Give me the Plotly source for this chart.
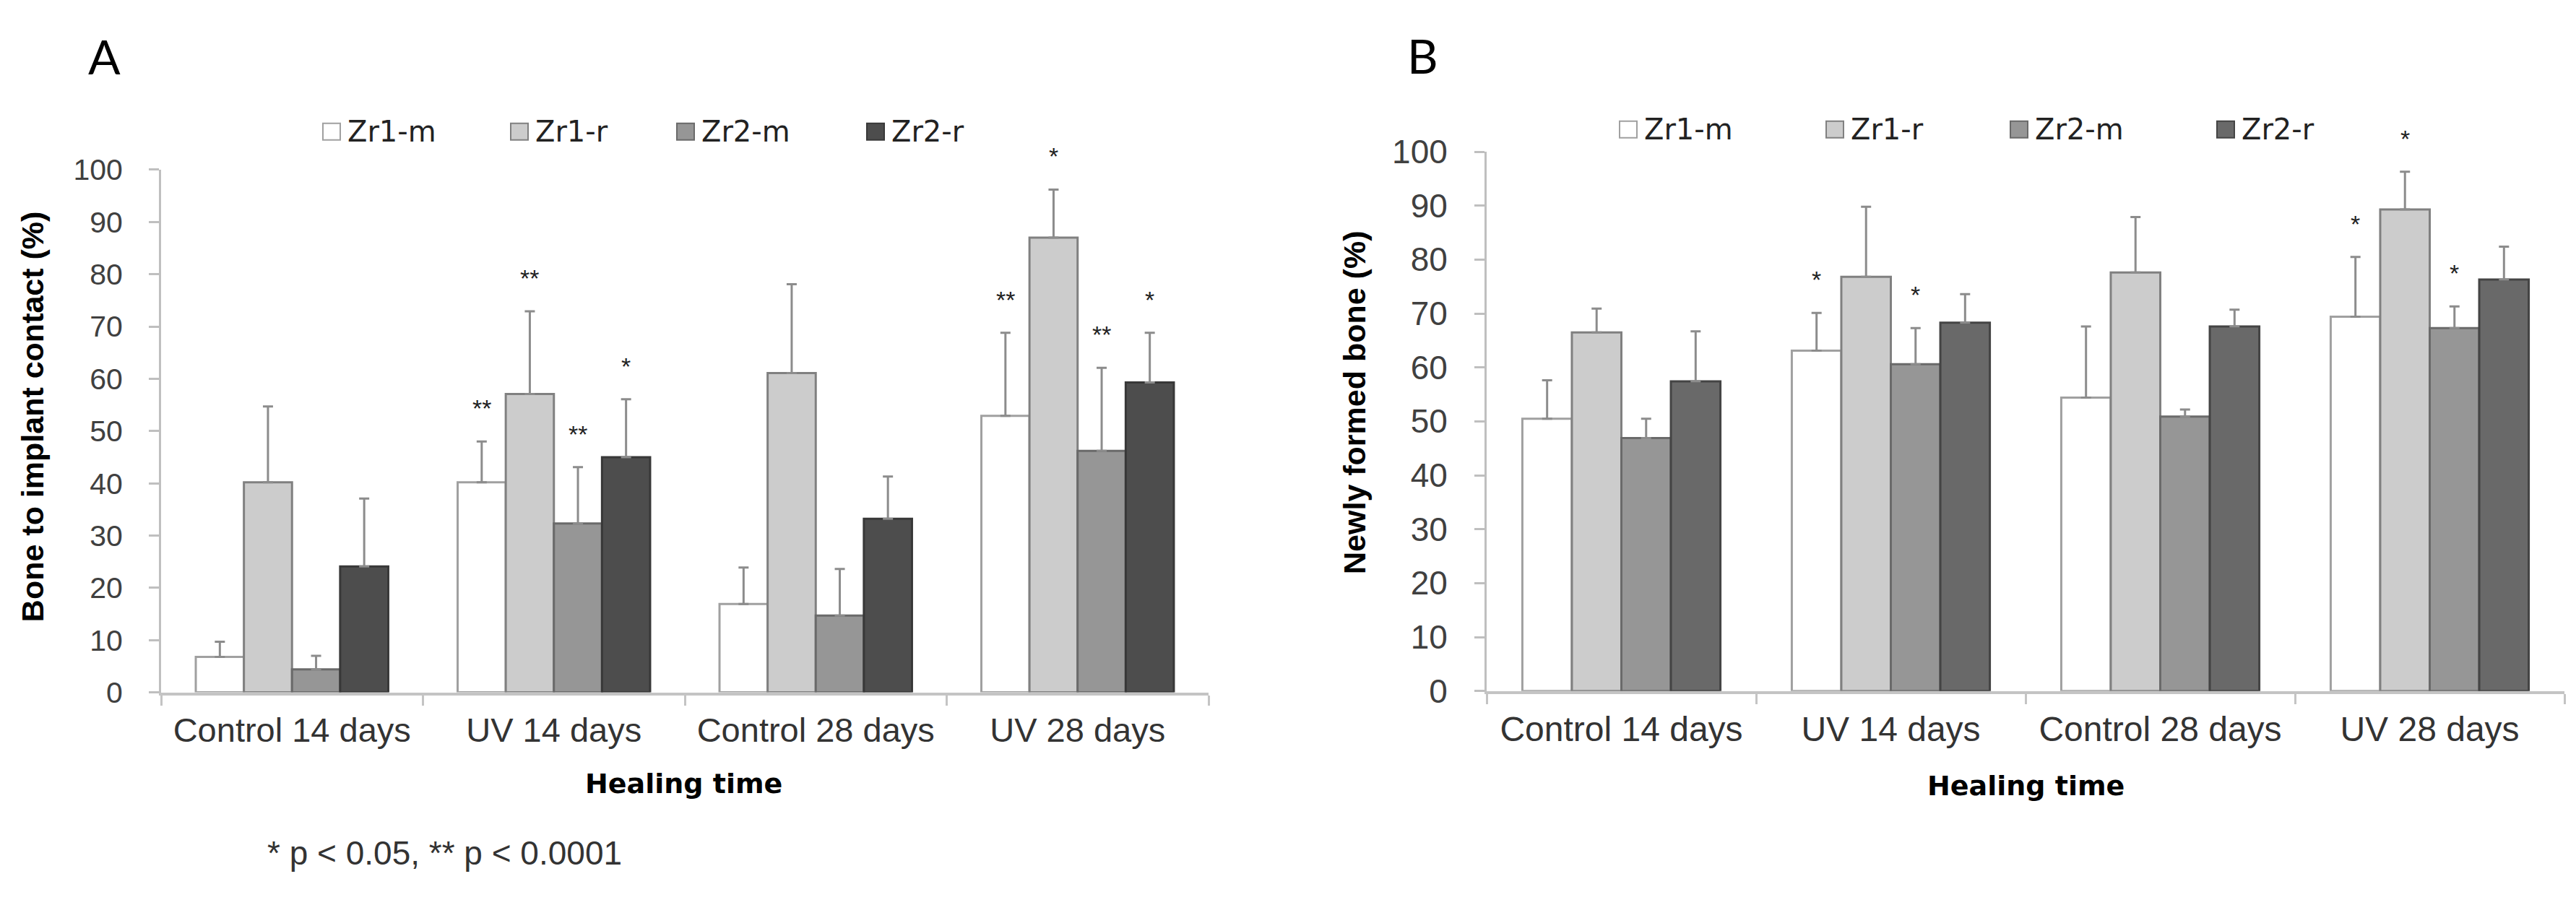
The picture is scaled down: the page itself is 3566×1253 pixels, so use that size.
import plotly.graph_objects as go

# ---------------- data ----------------
categories = ["Control 14 days", "UV 14 days", "Control 28 days", "UV 28 days"]
series_names = ["Zr1-m", "Zr1-r", "Zr2-m", "Zr2-r"]

# Panel A: Bone to implant contact (%)
a_zr1m = [6.8, 40.2, 16.9, 52.9]
a_zr1r = [40.2, 57.1, 61.1, 87.0]
a_zr2m = [4.4, 32.3, 14.7, 46.2]
a_zr2r = [24.1, 45.0, 33.2, 59.3]
a_zr1m_sd = [2.9, 7.8, 7.0, 15.9]
a_zr1r_sd = [14.5, 15.8, 17.0, 9.2]
a_zr2m_sd = [2.6, 10.8, 8.9, 15.9]
a_zr2r_sd = [13.0, 11.1, 8.1, 9.5]
a_zr1m_sig = ["", "**", "", "**"]
a_zr1r_sig = ["", "**", "", "*"]
a_zr2m_sig = ["", "**", "", "**"]
a_zr2r_sig = ["", "*", "", "*"]

# Panel B: Newly formed bone (%)
b_zr1m = [50.5, 63.1, 54.4, 69.4]
b_zr1r = [66.5, 76.8, 77.6, 89.3]
b_zr2m = [46.9, 60.6, 50.9, 67.3]
b_zr2r = [57.4, 68.3, 67.6, 76.3]
b_zr1m_sd = [7.1, 7.0, 13.2, 11.1]
b_zr1r_sd = [4.4, 13.0, 10.3, 7.0]
b_zr2m_sd = [3.6, 6.7, 1.3, 4.0]
b_zr2r_sd = [9.3, 5.3, 3.1, 6.1]
b_zr1m_sig = ["", "*", "", "*"]
b_zr1r_sig = ["", "", "", "*"]
b_zr2m_sig = ["", "*", "", "*"]
b_zr2r_sig = ["", "", "", ""]

y_ticks = list(range(0, 101, 10))

# ---------------- styling ----------------
W, H = 3566, 1253
FONT = "Liberation Sans, Arial, sans-serif"
WIDE = "DejaVu Sans, Verdana, sans-serif"
fills_a = ["#ffffff", "#cccccc", "#969696", "#4d4d4d"]
fills_b = ["#ffffff", "#cccccc", "#969696", "#696969"]
lines_a = ["#a0a0a0", "#808080", "#6a6a6a", "#383838"]
lines_b = ["#a0a0a0", "#808080", "#6a6a6a", "#444444"]
BARGAP = 0.265


def px(x):
    return x / W


def py(y):
    return 1 - y / H


panels = [
    dict(xa="x", ya="y", means=[a_zr1m, a_zr1r, a_zr2m, a_zr2r],
         sds=[a_zr1m_sd, a_zr1r_sd, a_zr2m_sd, a_zr2r_sd],
         sigs=[a_zr1m_sig, a_zr1r_sig, a_zr2m_sig, a_zr2r_sig],
         fills=fills_a, lines=lines_a),
    dict(xa="x2", ya="y2", means=[b_zr1m, b_zr1r, b_zr2m, b_zr2r],
         sds=[b_zr1m_sd, b_zr1r_sd, b_zr2m_sd, b_zr2r_sd],
         sigs=[b_zr1m_sig, b_zr1r_sig, b_zr2m_sig, b_zr2r_sig],
         fills=fills_b, lines=lines_b),
]

fig = go.Figure()
annotations = []
shapes = []

bar_w = (1 - BARGAP) / 4
for p in panels:
    for k, name in enumerate(series_names):
        fig.add_trace(go.Bar(
            x=categories, y=p["means"][k], name=name,
            xaxis=p["xa"], yaxis=p["ya"], showlegend=False,
            marker=dict(color=p["fills"][k], line=dict(color=p["lines"][k], width=3)),
            error_y=dict(type="data", array=p["sds"][k], arrayminus=[0] * 4,
                         symmetric=False, color="#8c8c8c", thickness=3, width=7),
        ))
        off = (k - 1.5) * bar_w
        for i, s in enumerate(p["sigs"][k]):
            if s:
                annotations.append(dict(
                    x=i + off, y=p["means"][k][i] + p["sds"][k][i],
                    xref=p["xa"], yref=p["ya"], text=s, showarrow=False,
                    yanchor="middle", yshift=46,
                    font=dict(family=FONT, size=34, color="#222222")))

axis_common_y = dict(range=[0, 100], tickvals=y_ticks, ticks="outside", ticklen=14,
                     tickwidth=3, tickcolor="#bfbfbf", showline=True, linecolor="#bfbfbf",
                     linewidth=3, showgrid=False, zeroline=False)
axis_common_x = dict(type="category", tickson="boundaries", ticks="outside", ticklen=14,
                     tickwidth=3, tickcolor="#c4c4c4", showline=True, linecolor="#c4c4c4",
                     linewidth=4, showgrid=False, zeroline=False)

fig.update_layout(
    width=W, height=H, margin=dict(l=0, r=0, t=0, b=0),
    paper_bgcolor="white", plot_bgcolor="white",
    barmode="group", bargap=BARGAP, bargroupgap=0,
    xaxis=dict(domain=[px(223), px(1673)], anchor="y",
               tickfont=dict(family=FONT, size=47, color="#333333"),
               ticklabelstandoff=8, **axis_common_x),
    yaxis=dict(domain=[py(973), py(218)], anchor="x",
               tickfont=dict(family=FONT, size=41, color="#404040"),
               ticklabelstandoff=28, **axis_common_y),
    xaxis2=dict(domain=[px(2058), px(3550)], anchor="y2",
                tickfont=dict(family=FONT, size=48, color="#333333"),
                ticklabelstandoff=8, **axis_common_x),
    yaxis2=dict(domain=[py(971), py(192)], anchor="x2",
                tickfont=dict(family=FONT, size=46, color="#404040"),
                ticklabelstandoff=28, **axis_common_y),
)

# panel letters
annotations.append(dict(x=px(144), y=py(54), xref="paper", yref="paper", text="A",
                        showarrow=False, xanchor="center", yanchor="middle",
                        font=dict(family="Lato, sans-serif", size=66, color="black")))
annotations.append(dict(x=px(1969), y=py(53), xref="paper", yref="paper", text="B",
                        showarrow=False, xanchor="center", yanchor="middle",
                        font=dict(family="Lato, sans-serif", size=66, color="black")))

# axis titles
annotations.append(dict(x=px(45), y=py(575), xref="paper", yref="paper",
                        text="<b>Bone to implant contact (%)</b>", textangle=-90,
                        showarrow=False, xanchor="center", yanchor="middle",
                        font=dict(family=FONT, size=43, color="black")))
annotations.append(dict(x=px(1875), y=py(555), xref="paper", yref="paper",
                        text="<b>Newly formed bone (%)</b>", textangle=-90,
                        showarrow=False, xanchor="center", yanchor="middle",
                        font=dict(family=FONT, size=43, color="black")))
annotations.append(dict(x=px(946), y=py(1105), xref="paper", yref="paper",
                        text="<b>Healing time</b>", showarrow=False,
                        xanchor="center", yanchor="middle",
                        font=dict(family=WIDE, size=38, color="black")))
annotations.append(dict(x=px(2804), y=py(1108), xref="paper", yref="paper",
                        text="<b>Healing time</b>", showarrow=False,
                        xanchor="center", yanchor="middle",
                        font=dict(family=WIDE, size=38, color="black")))

# footnote
annotations.append(dict(x=px(368), y=py(1205), xref="paper", yref="paper",
                        text="* p < 0.05, ** p < 0.0001", showarrow=False,
                        xanchor="left", yanchor="middle",
                        font=dict(family=FONT, size=46, color="#333333")))

# manual legends (box + label)
legend_a_left = [447, 707, 937, 1200]
legend_b_left = [2242, 2528, 2783, 3069]
for lefts, cy, fills, lines in [(legend_a_left, 163, fills_a, lines_a),
                                (legend_b_left, 160, fills_b, lines_b)]:
    for k, name in enumerate(series_names):
        x0 = lefts[k]
        shapes.append(dict(type="rect", xref="paper", yref="paper",
                           x0=px(x0), x1=px(x0 + 24), y0=py(cy + 12), y1=py(cy - 12),
                           fillcolor=fills[k], line=dict(color=lines[k], width=2)))
        annotations.append(dict(x=px(x0 + 32), y=py(cy), xref="paper", yref="paper",
                                text=name, showarrow=False, xanchor="left",
                                yanchor="middle",
                                font=dict(family=WIDE, size=40, color="#222222")))

fig.update_layout(annotations=annotations, shapes=shapes)

fig.write_html("out.html", config={"displayModeBar": False},
               post_script="document.body.style.margin='0';")
